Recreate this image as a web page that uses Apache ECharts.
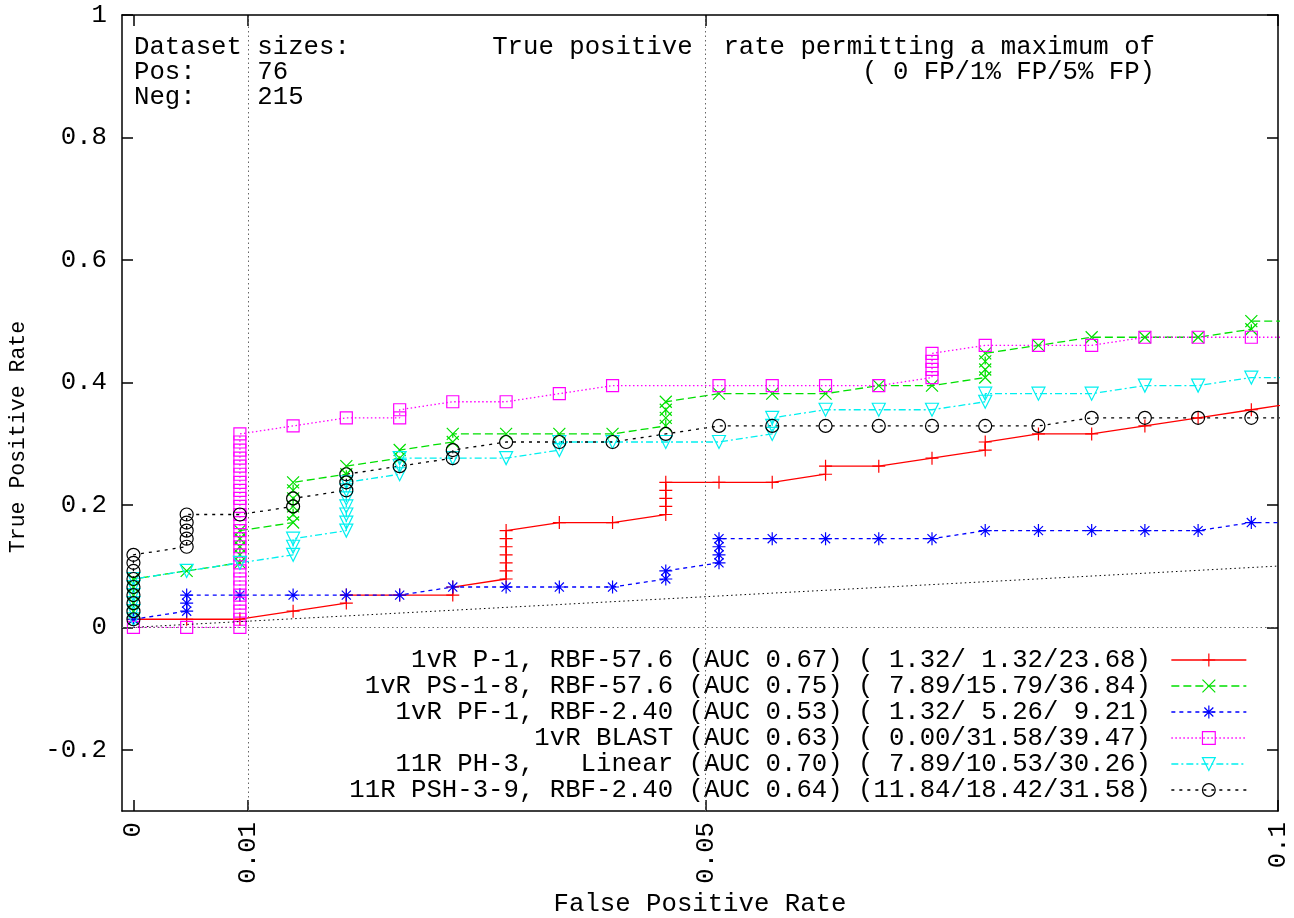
<!DOCTYPE html>
<html>
<head>
<meta charset="utf-8">
<title>ROC low false-positive region</title>
<script src="https://cdn.jsdelivr.net/npm/echarts@6/dist/echarts.min.js"></script>
<style>
  html, body { margin: 0; padding: 0; background: #fff; }
  #chart { width: 1294px; height: 918px; }
</style>
</head>
<body>
<div id="chart"></div>
<script>
// axis ticks
const fprTicks = [0, 0.01, 0.05, 0.1]
const tprTicks = [-0.2, 0, 0.2, 0.4, 0.6, 0.8, 1]
const guideFpr = [0.01, 0.05]

// legend labels: method (AUC) (TPR at 0 FP / 1% FP / 5% FP)
const names = [
  '1vR P-1, RBF-57.6 (AUC 0.67) ( 1.32/ 1.32/23.68)',
  '1vR PS-1-8, RBF-57.6 (AUC 0.75) ( 7.89/15.79/36.84)',
  '1vR PF-1, RBF-2.40 (AUC 0.53) ( 1.32/ 5.26/ 9.21)',
  '1vR BLAST (AUC 0.63) ( 0.00/31.58/39.47)',
  '11R PH-3,   Linear (AUC 0.70) ( 7.89/10.53/30.26)',
  '11R PSH-3-9, RBF-2.40 (AUC 0.64) (11.84/18.42/31.58)'
]

// [false positive rate, true positive rate]
const p1Rbf = [
  [0, 0.0132], [0.00465, 0.0132], [0.0093, 0.0132], [0.01395, 0.0263],
  [0.0186, 0.0395], [0.0186, 0.0526], [0.02326, 0.0526], [0.0279, 0.0526], [0.0279, 0.0658],
  [0.03256, 0.0789], [0.03256, 0.0921], [0.03256, 0.1053], [0.03256, 0.1184], [0.03256, 0.1316], [0.03256, 0.1447], [0.03256, 0.1579],
  [0.03721, 0.1711], [0.04186, 0.1711],
  [0.04651, 0.1842], [0.04651, 0.1974], [0.04651, 0.2105], [0.04651, 0.2237], [0.04651, 0.2368],
  [0.05116, 0.2368], [0.05581, 0.2368], [0.06047, 0.25], [0.06047, 0.2632], [0.06512, 0.2632],
  [0.06977, 0.2763], [0.07442, 0.2895], [0.07442, 0.3026], [0.07907, 0.3158], [0.08372, 0.3158],
  [0.08837, 0.3289], [0.09302, 0.3421], [0.09767, 0.3553], [0.10233, 0.3684]
]

const ps18Rbf = [
  [0, 0.0132], [0, 0.0263], [0, 0.0395], [0, 0.0526], [0, 0.0658], [0, 0.0789],
  [0.00465, 0.0921],
  [0.0093, 0.1053], [0.0093, 0.1184], [0.0093, 0.1316], [0.0093, 0.1447], [0.0093, 0.1579],
  [0.01395, 0.1711], [0.01395, 0.1842], [0.01395, 0.1974], [0.01395, 0.2105], [0.01395, 0.2237], [0.01395, 0.2368],
  [0.0186, 0.25], [0.0186, 0.2632], [0.02326, 0.2763], [0.02326, 0.2895], [0.0279, 0.3026], [0.0279, 0.3158],
  [0.03256, 0.3158], [0.03721, 0.3158], [0.04186, 0.3158],
  [0.04651, 0.3289], [0.04651, 0.3421], [0.04651, 0.3553], [0.04651, 0.3684],
  [0.05116, 0.3816], [0.05581, 0.3816], [0.06047, 0.3816], [0.06512, 0.3947], [0.06977, 0.3947],
  [0.07442, 0.4079], [0.07442, 0.4211], [0.07442, 0.4342], [0.07442, 0.4474],
  [0.07907, 0.4605], [0.08372, 0.4737], [0.08837, 0.4737], [0.09302, 0.4737],
  [0.09767, 0.4868], [0.09767, 0.5], [0.10233, 0.5]
]

const pf1Rbf = [
  [0, 0.0132], [0.00465, 0.0263], [0.00465, 0.0395], [0.00465, 0.0526],
  [0.0093, 0.0526], [0.01395, 0.0526], [0.0186, 0.0526], [0.02326, 0.0526],
  [0.0279, 0.0658], [0.03256, 0.0658], [0.03721, 0.0658], [0.04186, 0.0658],
  [0.04651, 0.0789], [0.04651, 0.0921],
  [0.05116, 0.1053], [0.05116, 0.1184], [0.05116, 0.1316], [0.05116, 0.1447],
  [0.05581, 0.1447], [0.06047, 0.1447], [0.06512, 0.1447], [0.06977, 0.1447],
  [0.07442, 0.1579], [0.07907, 0.1579], [0.08372, 0.1579], [0.08837, 0.1579], [0.09302, 0.1579],
  [0.09767, 0.1711], [0.10233, 0.1711]
]

const blast = [
  [0, 0], [0.00465, 0],
  [0.0093, 0], [0.0093, 0.0132], [0.0093, 0.0263], [0.0093, 0.0395], [0.0093, 0.0526], [0.0093, 0.0658],
  [0.0093, 0.0789], [0.0093, 0.0921], [0.0093, 0.1053], [0.0093, 0.1184], [0.0093, 0.1316], [0.0093, 0.1447],
  [0.0093, 0.1579], [0.0093, 0.1711], [0.0093, 0.1842], [0.0093, 0.1974], [0.0093, 0.2105], [0.0093, 0.2237],
  [0.0093, 0.2368], [0.0093, 0.25], [0.0093, 0.2632], [0.0093, 0.2763], [0.0093, 0.2895], [0.0093, 0.3026], [0.0093, 0.3158],
  [0.01395, 0.3289], [0.0186, 0.3421], [0.02326, 0.3421], [0.02326, 0.3553], [0.0279, 0.3684], [0.03256, 0.3684],
  [0.03721, 0.3816], [0.04186, 0.3947], [0.05116, 0.3947], [0.05581, 0.3947], [0.06047, 0.3947], [0.06512, 0.3947],
  [0.06977, 0.4079], [0.06977, 0.4211], [0.06977, 0.4342], [0.06977, 0.4474],
  [0.07442, 0.4605], [0.07907, 0.4605], [0.08372, 0.4605],
  [0.08837, 0.4737], [0.09302, 0.4737], [0.09767, 0.4737], [0.10233, 0.4737]
]

const ph3Linear = [
  [0, 0.0132], [0, 0.0263], [0, 0.0395], [0, 0.0526], [0, 0.0658], [0, 0.0789],
  [0.00465, 0.0921], [0.0093, 0.1053],
  [0.01395, 0.1184], [0.01395, 0.1316], [0.01395, 0.1447],
  [0.0186, 0.1579], [0.0186, 0.1711], [0.0186, 0.1842], [0.0186, 0.1974], [0.0186, 0.2105], [0.0186, 0.2237], [0.0186, 0.2368],
  [0.02326, 0.25], [0.02326, 0.2632], [0.02326, 0.2763], [0.0279, 0.2763], [0.03256, 0.2763],
  [0.03721, 0.2895], [0.03721, 0.3026], [0.04186, 0.3026], [0.04651, 0.3026], [0.05116, 0.3026],
  [0.05581, 0.3158], [0.05581, 0.3289], [0.05581, 0.3421],
  [0.06047, 0.3553], [0.06512, 0.3553], [0.06977, 0.3553],
  [0.07442, 0.3684], [0.07442, 0.3816], [0.07907, 0.3816], [0.08372, 0.3816],
  [0.08837, 0.3947], [0.09302, 0.3947], [0.09767, 0.4079], [0.10233, 0.4079]
]

const psh39Rbf = [
  [0, 0.0132], [0, 0.0263], [0, 0.0395], [0, 0.0526], [0, 0.0658], [0, 0.0789], [0, 0.0921], [0, 0.1053], [0, 0.1184],
  [0.00465, 0.1316], [0.00465, 0.1447], [0.00465, 0.1579], [0.00465, 0.1711], [0.00465, 0.1842],
  [0.0093, 0.1842], [0.01395, 0.1974], [0.01395, 0.2105],
  [0.0186, 0.2237], [0.0186, 0.2368], [0.0186, 0.25], [0.02326, 0.2632], [0.0279, 0.2763], [0.0279, 0.2895],
  [0.03256, 0.3026], [0.03721, 0.3026], [0.04186, 0.3026], [0.04651, 0.3158],
  [0.05116, 0.3289], [0.05581, 0.3289], [0.06047, 0.3289], [0.06512, 0.3289], [0.06977, 0.3289], [0.07442, 0.3289], [0.07907, 0.3289],
  [0.08372, 0.3421], [0.08837, 0.3421], [0.09302, 0.3421], [0.09767, 0.3421], [0.10233, 0.3421]
]

// text in the upper part of the plot
const infoLeft = ['Dataset sizes:', 'Pos:    76', 'Neg:    215']
const infoRight = ['True positive  rate permitting a maximum of', '( 0 FP/1% FP/5% FP)']

const FONT = '"Liberation Mono", "DejaVu Sans Mono", monospace'
const FONT_SIZE = 25.7

// gnuplot style point types
const PLUS = 'path://M0,5L10,5M5,0L5,10'
const CROSS = 'path://M0,0L10,10M10,0L0,10'
const STAR = 'path://M0,5L10,5M5,0L5,10M1.5,1.5L8.5,8.5M8.5,1.5L1.5,8.5'

const curves = [
  { data: p1Rbf, color: '#ff0000', symbol: PLUS, size: 13, dash: 'solid' },
  { data: ps18Rbf, color: '#00e000', symbol: CROSS, size: 12, dash: [8, 4] },
  { data: pf1Rbf, color: '#0000ff', symbol: STAR, size: 13, dash: [4, 4] },
  { data: blast, color: '#ff00ff', symbol: 'rect', size: 12, dash: [1.5, 2.5] },
  { data: ph3Linear, color: '#00f0f0', symbol: 'triangle', size: 13, rotate: 180, dash: [7, 3, 2, 3] },
  { data: psh39Rbf, color: '#000000', symbol: 'circle', size: 13, dash: [3, 5] }
]

const guideStyle = { color: '#666', width: 1, type: [1.5, 3] }

const series = curves.map((c, i) => ({
  name: names[i],
  type: 'line',
  data: c.data,
  symbol: c.symbol,
  symbolSize: c.size,
  symbolRotate: c.rotate || 0,
  clip: true,
  itemStyle: { color: 'transparent', borderColor: c.color, borderWidth: 1.2 },
  lineStyle: { color: c.color, width: 1.3, type: c.dash },
  emphasis: { disabled: true }
}))

// dotted guides: 1% and 5% FP, the zero line and the chance diagonal
series[0].markLine = {
  silent: true,
  symbol: 'none',
  label: { show: false },
  lineStyle: guideStyle,
  data: [
    ...guideFpr.map(v => ({ xAxis: v })),
    { yAxis: 0 },
    [{ coord: [0, 0], lineStyle: { color: '#000', width: 1, type: [1.5, 3] } }, { coord: [0.1, 0.1] }]
  ]
}

const axisLine = { show: true, onZero: false, lineStyle: { color: '#000', width: 1.5 } }
const tickStyle = { color: '#000', width: 1.5 }
const textStyle = { fontFamily: FONT, fontSize: FONT_SIZE, fill: '#000' }

const chart = echarts.init(document.getElementById('chart'))

chart.setOption({
  animation: false,
  backgroundColor: '#fff',
  grid: {
    left: 122,
    right: 16,
    top: 15,
    bottom: 107,
    outerBoundsMode: 'none'
  },
  legend: {
    data: names,
    orient: 'vertical',
    align: 'right',
    right: 47,
    top: 647,
    padding: 0,
    itemGap: 0,
    itemWidth: 75,
    itemHeight: 16,
    selectedMode: false,
    formatter: name => name + ' ',
    itemStyle: { color: 'transparent', borderWidth: 1.2 },
    lineStyle: { width: 1.3 },
    textStyle: { fontFamily: FONT, fontSize: FONT_SIZE, color: '#000', lineHeight: 25 }
  },
  xAxis: [
    {
      type: 'value',
      min: -0.001,
      max: 0.1,
      name: 'False Positive Rate',
      nameLocation: 'middle',
      nameGap: 80,
      nameTextStyle: { fontFamily: FONT, fontSize: FONT_SIZE, color: '#000' },
      axisLine,
      axisTick: { show: true, inside: true, length: 11, customValues: fprTicks, lineStyle: tickStyle },
      axisLabel: {
        customValues: fprTicks,
        rotate: 90,
        margin: 11,
        fontFamily: FONT,
        fontSize: FONT_SIZE,
        color: '#000'
      },
      splitLine: { show: false }
    },
    {
      type: 'value',
      position: 'top',
      min: -0.001,
      max: 0.1,
      axisLine,
      axisTick: { show: true, inside: true, length: 11, customValues: fprTicks, lineStyle: tickStyle },
      axisLabel: { show: false },
      splitLine: { show: false }
    }
  ],
  yAxis: [
    {
      type: 'value',
      min: -0.3,
      max: 1,
      name: 'True Positive Rate',
      nameLocation: 'middle',
      nameGap: 93,
      nameTextStyle: { fontFamily: FONT, fontSize: 21.5, color: '#000', padding: [0, 48, 0, 0] },
      axisLine,
      axisTick: { show: true, inside: true, length: 11, customValues: tprTicks, lineStyle: tickStyle },
      axisLabel: {
        customValues: tprTicks,
        margin: 15,
        fontFamily: FONT,
        fontSize: FONT_SIZE,
        color: '#000'
      },
      splitLine: { show: false }
    },
    {
      type: 'value',
      position: 'right',
      min: -0.3,
      max: 1,
      axisLine,
      axisTick: { show: true, inside: true, length: 11, customValues: tprTicks, lineStyle: tickStyle },
      axisLabel: { show: false },
      splitLine: { show: false }
    }
  ],
  graphic: [
    ...infoLeft.map((t, i) => ({
      type: 'text', left: 134, top: 34 + i * 25,
      style: { ...textStyle, text: t }
    })),
    ...infoRight.map((t, i) => ({
      type: 'text', right: 1294 - 1155, top: 34 + i * 25,
      style: { ...textStyle, text: t }
    }))
  ],
  series
})
</script>
</body>
</html>
